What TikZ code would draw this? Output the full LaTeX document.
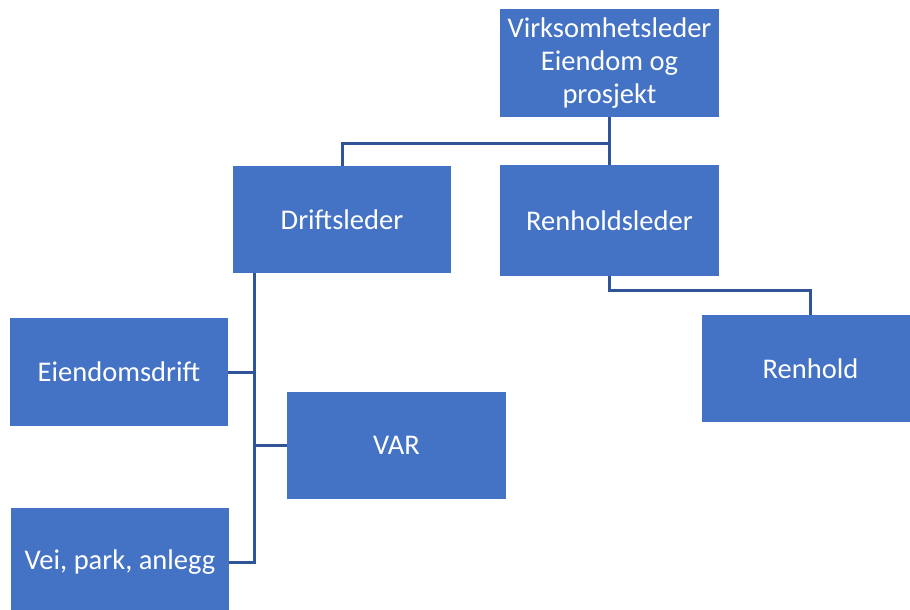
\documentclass[tikz,border=0pt]{standalone}
\usepackage{fontspec}
\setmainfont{Carlito}
\definecolor{boxblue}{HTML}{4472C4}
\definecolor{linkblue}{HTML}{2F5597}
\begin{document}
\begin{tikzpicture}[x=1pt,y=-1pt,
  orgbox/.style={fill=boxblue, draw=none, text=white, inner sep=0pt, outer sep=0pt,
    minimum width=218pt, minimum height=108pt, align=center,
    font=\fontsize{28.5}{33}\selectfont},
  link/.style={draw=linkblue, line width=3pt}]
\useasboundingbox (0,0) rectangle (910,610);

% boxes
\node[orgbox, minimum width=219pt] (top) at (609.5,63) {Virksomhetsleder\\Eiendom og\\prosjekt};
\node[orgbox, minimum height=107pt] (drift) at (342,219.5) {Driftsleder};
\node[orgbox, minimum width=219pt, minimum height=111pt] (renhl) at (609.5,220.5) {Renholdsleder};
\node[orgbox] (eien) at (119,372) {Eiendomsdrift};
\node[orgbox, minimum width=219pt, minimum height=107pt] (var) at (396.5,445.5) {VAR};
\node[orgbox, minimum width=217pt, minimum height=107pt] (renhold) at (810.5,368.5) {Renhold};
\node[orgbox] (vei) at (120,562) {Vei, park, anlegg};

% connectors from the top box
\coordinate (j1) at ([yshift=-26pt]top.south);
\draw[link] (top.south) -- (j1);
\draw[link] (j1) -| (drift.north);
\draw[link] (j1) -- (renhl.north);

% spine under Driftsleder
\coordinate (spine) at ([xshift=-88pt]drift.south);
\draw[link] (spine) -- (spine |- vei.east) -- (vei.east);
\draw[link] (spine |- eien.east) -- (eien.east);
\draw[link] (spine |- var.west) -- (var.west);

% Renholdsleder to Renhold
\draw[link] (renhl.south) -- ++(0,14) -| (renhold.north);
\end{tikzpicture}
\end{document}
